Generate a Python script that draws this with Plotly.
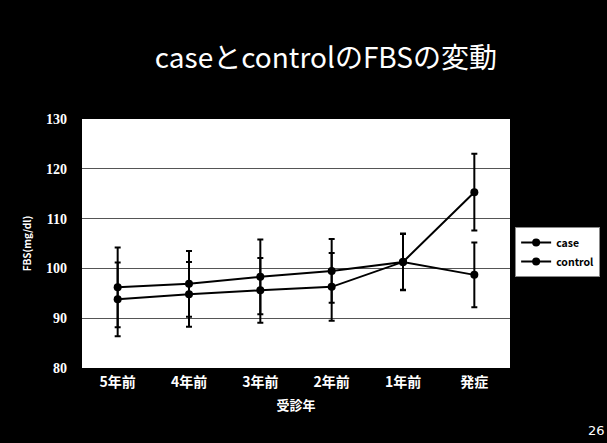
import plotly.graph_objects as go

categories = ["5年前", "4年前", "3年前", "2年前", "1年前", "発症"]
case_values = [96.2, 96.9, 98.3, 99.5, 101.3, 115.3]
case_err = [8.0, 6.6, 7.5, 6.4, 5.6, 7.7]
control_values = [93.8, 94.8, 95.6, 96.3, 101.3, 98.7]
control_err = [7.4, 6.5, 6.5, 6.8, 5.7, 6.5]
y_ticks = [80, 90, 100, 110, 120, 130]

title_text = "caseとcontrolのFBSの変動"
x_title = "受診年"
y_title = "FBS(mg/dl)"
page_no = "26"

fig = go.Figure()
for name, vals, errs in [("case", case_values, case_err), ("control", control_values, control_err)]:
    fig.add_trace(go.Scatter(
        x=categories, y=vals, name=name, mode="lines+markers",
        line=dict(color="black", width=2),
        marker=dict(color="black", size=8, symbol="circle"),
        error_y=dict(type="data", array=errs, visible=True, color="black", thickness=2, width=3),
    ))

fig.update_layout(
    width=607, height=443,
    paper_bgcolor="#000000", plot_bgcolor="#ffffff",
    margin=dict(l=82, r=97, t=119, b=75, autoexpand=False),
    title=dict(text=title_text, x=0.537, xanchor="center", y=0.868, yanchor="middle",
               font=dict(family="Noto Sans CJK JP", size=28, color="white")),
    showlegend=True,
    legend=dict(x=1.012, xanchor="left", y=0.466, yanchor="middle",
                bgcolor="white", bordercolor="#888888", borderwidth=1,
                font=dict(family="Noto Sans CJK JP", size=10.5, color="black", weight="bold"),
                itemwidth=30, tracegroupgap=0),
    xaxis=dict(type="category", range=[-0.5, 5.5], showgrid=False, zeroline=False,
               showline=False, ticks="", ticklabelstandoff=4, automargin=False,
               tickfont=dict(family="Noto Sans CJK JP", size=14, color="white", weight="bold"),
               title=dict(text=x_title, standoff=10,
                          font=dict(family="Noto Sans CJK JP", size=13, color="white", weight="bold"))),
    yaxis=dict(range=[80, 130], tickvals=y_ticks, showgrid=True, gridcolor="#555555", gridwidth=1,
               zeroline=False, showline=False, ticks="", ticklabelstandoff=14, automargin=False,
               tickfont=dict(family="Liberation Serif", size=14, color="white", weight="bold"),
               title=dict(text=y_title, standoff=12,
                          font=dict(family="Noto Sans CJK JP", size=10, color="white", weight="bold"))),
    annotations=[dict(text=page_no, xref="paper", yref="paper", x=1.2266, y=-0.29,
                      xanchor="right", yanchor="bottom", showarrow=False,
                      font=dict(family="DejaVu Sans", size=13, color="white"))],
)

fig.write_html("out.html", config={"displayModeBar": False},
               post_script="document.body.style.margin='0';document.body.style.background='#000';")
